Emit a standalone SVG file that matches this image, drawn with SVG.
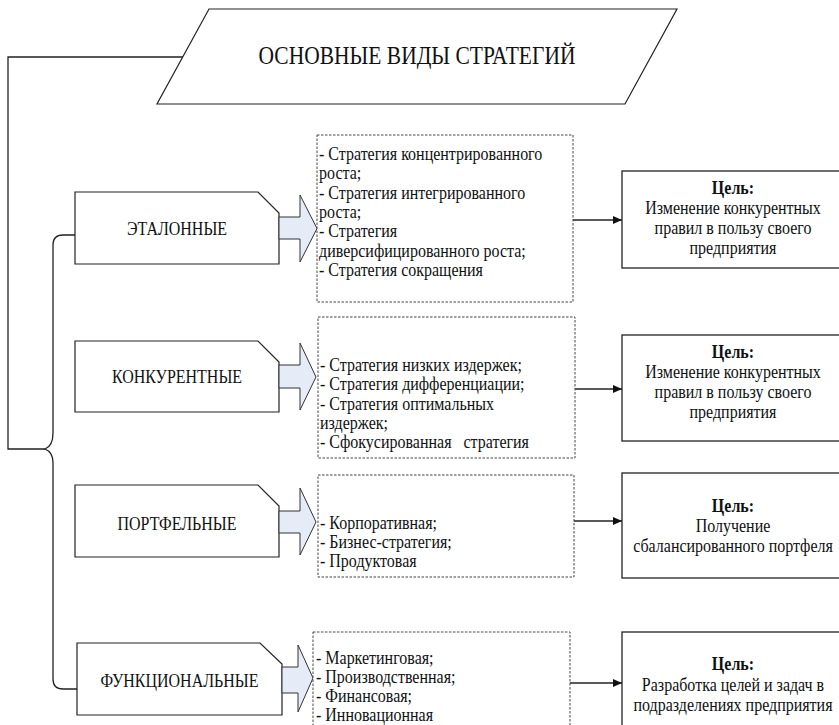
<svg xmlns="http://www.w3.org/2000/svg" width="839" height="725" viewBox="0 0 839 725">
<style>
text{font-family:"Liberation Serif","Times New Roman",serif;font-size:16px;fill:#111}
.title{font-size:21.5px}
.c{text-anchor:middle}
.b{font-weight:bold}
.box{fill:#fff;stroke:#222;stroke-width:1.2}
.dash{fill:#fff;stroke:#444;stroke-width:1;stroke-dasharray:2.5,1.5}
.barrow{fill:#e5ecf7;stroke:#333;stroke-width:1}
.goal{fill:#fff;stroke:#222;stroke-width:1.3}
.line{fill:none;stroke:#222;stroke-width:1.3}
</style>
<defs>
<marker id="ah" markerWidth="10" markerHeight="8" refX="9" refY="4" orient="auto" markerUnits="userSpaceOnUse">
<path d="M0,0 L9,4 L0,8 Z" fill="#111"/>
</marker>
</defs>
<rect width="839" height="725" fill="#fff"/>

<g id="connectors">
<path class="line" d="M183,57 H8 V449 H45"/>
<path class="line" d="M75,235 H63 Q53,235 53,245 V433 Q53,446 45,449 Q53,452 53,463 V679 Q53,689 63,689 H77"/>
<line class="line" x1="573" y1="220" x2="622" y2="220" marker-end="url(#ah)"/>
<line class="line" x1="575" y1="389" x2="622" y2="389" marker-end="url(#ah)"/>
<line class="line" x1="574" y1="521" x2="622" y2="521" marker-end="url(#ah)"/>
<line class="line" x1="570" y1="683" x2="622" y2="683" marker-end="url(#ah)"/>
</g>

<g id="title">
<polygon class="box" points="209,9 677,9 625,104 157,104"/>
<text class="title c" transform="matrix(1 0 0 1.18 417 64)">ОСНОВНЫЕ ВИДЫ СТРАТЕГИЙ</text>
</g>

<g id="etalon">
<polygon class="box" points="75,192 258,192 279,213 279,264 75,264"/>
<text class="c" transform="matrix(1 0 0 1.22 177 235)">ЭТАЛОННЫЕ</text>
<polygon class="barrow" points="279,217 300,217 300,195 317,228.5 300,262 300,239 279,239"/>
</g>
<g id="konkur">
<polygon class="box" points="75,341 258,341 279,362 279,412 75,412"/>
<text class="c" transform="matrix(1 0 0 1.22 177 383)">КОНКУРЕНТНЫЕ</text>
<polygon class="barrow" points="279,365 300,365 300,343 316,377 300,410 300,388 279,388"/>
</g>
<g id="portfel">
<polygon class="box" points="75,485 258,485 279,506 279,557 75,557"/>
<text class="c" transform="matrix(1 0 0 1.22 177 530)">ПОРТФЕЛЬНЫЕ</text>
<polygon class="barrow" points="279,511 300,511 300,488 316,522 300,555 300,533 279,533"/>
</g>
<g id="funkc">
<polygon class="box" points="77,643 260,643 282,664 282,715 77,715"/>
<text class="c" transform="matrix(1 0 0 1.22 179.5 687)">ФУНКЦИОНАЛЬНЫЕ</text>
<polygon class="barrow" points="282,667 298,667 298,645 313,678 298,712 298,693 282,693"/>
</g>

<g id="list1">
<rect class="dash" x="317" y="135" width="256" height="167"/>
<text transform="matrix(1 0 0 1.2 319 160)">- Стратегия концентрированного</text>
<text transform="matrix(1 0 0 1.2 319 179)">роста;</text>
<text transform="matrix(1 0 0 1.2 319 198.5)">- Стратегия интегрированного</text>
<text transform="matrix(1 0 0 1.2 319 218)">роста;</text>
<text transform="matrix(1 0 0 1.2 319 237)">- Стратегия</text>
<text transform="matrix(1 0 0 1.2 319 256.5)">диверсифицированного роста;</text>
<text transform="matrix(1 0 0 1.2 319 276)">- Стратегия сокращения</text>
</g>
<g id="list2">
<rect class="dash" x="318" y="317" width="257" height="141"/>
<text transform="matrix(1 0 0 1.2 320 371)">- Стратегия низких издержек;</text>
<text transform="matrix(1 0 0 1.2 320 390)">- Стратегия дифференциации;</text>
<text transform="matrix(1 0 0 1.2 320 409.5)">- Стратегия оптимальных</text>
<text transform="matrix(1 0 0 1.2 320 429)">издержек;</text>
<text xml:space="preserve" transform="matrix(1 0 0 1.2 320 448)">- Сфокусированная   стратегия</text>
</g>
<g id="list3">
<rect class="dash" x="318" y="475" width="256" height="102"/>
<text transform="matrix(1 0 0 1.2 320 529)">- Корпоративная;</text>
<text transform="matrix(1 0 0 1.2 320 548)">- Бизнес-стратегия;</text>
<text transform="matrix(1 0 0 1.2 320 567)">- Продуктовая</text>
</g>
<g id="list4">
<rect class="dash" x="313" y="632" width="257" height="110"/>
<text transform="matrix(1 0 0 1.2 316 664)">- Маркетинговая;</text>
<text transform="matrix(1 0 0 1.2 316 683)">- Производственная;</text>
<text transform="matrix(1 0 0 1.2 316 702)">- Финансовая;</text>
<text transform="matrix(1 0 0 1.2 316 721)">- Инновационная</text>
</g>

<g id="goal1">
<rect class="goal" x="622" y="171" width="225" height="97"/>
<text class="c b" transform="matrix(1 0 0 1.2 733 194)">Цель:</text>
<text class="c" transform="matrix(1 0 0 1.2 733 214)">Изменение конкурентных</text>
<text class="c" transform="matrix(1 0 0 1.2 733 234)">правил в пользу своего</text>
<text class="c" transform="matrix(1 0 0 1.2 733 254)">предприятия</text>
</g>
<g id="goal2">
<rect class="goal" x="622" y="335" width="225" height="106"/>
<text class="c b" transform="matrix(1 0 0 1.2 733 358)">Цель:</text>
<text class="c" transform="matrix(1 0 0 1.2 733 378)">Изменение конкурентных</text>
<text class="c" transform="matrix(1 0 0 1.2 733 398)">правил в пользу своего</text>
<text class="c" transform="matrix(1 0 0 1.2 733 418)">предприятия</text>
</g>
<g id="goal3">
<rect class="goal" x="622" y="473" width="225" height="105"/>
<text class="c b" transform="matrix(1 0 0 1.2 733 512)">Цель:</text>
<text class="c" transform="matrix(1 0 0 1.2 733 532)">Получение</text>
<text class="c" transform="matrix(1 0 0 1.2 733 552)">сбалансированного портфеля</text>
</g>
<g id="goal4">
<rect class="goal" x="622" y="632" width="225" height="110"/>
<text class="c b" transform="matrix(1 0 0 1.2 733 670)">Цель:</text>
<text class="c" transform="matrix(1 0 0 1.2 733 691)">Разработка целей и задач в</text>
<text class="c" transform="matrix(1 0 0 1.2 733 711)">подразделениях предприятия</text>
</g>
</svg>
